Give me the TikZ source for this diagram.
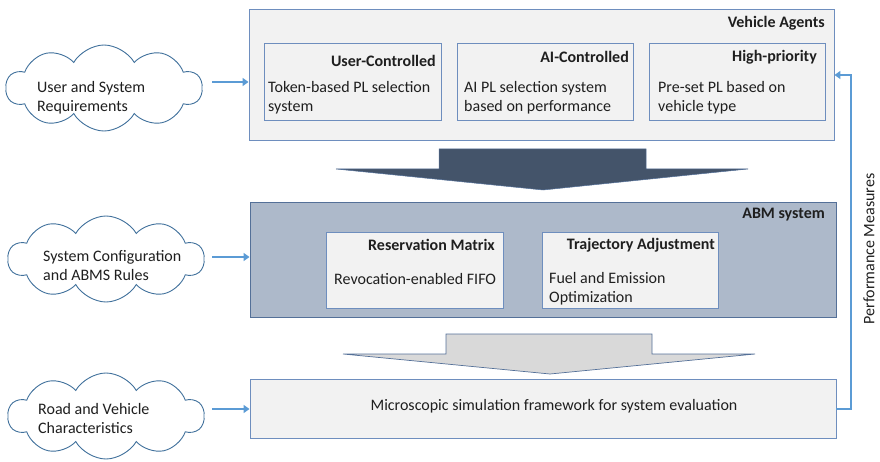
\documentclass[tikz,border=0pt]{standalone}
\usepackage{fontspec}
\setmainfont{Carlito}
\usepackage{tikz}
\usetikzlibrary{arrows.meta,positioning,shapes.symbols,calc}
\definecolor{edgeblue}{RGB}{110,142,190}
\definecolor{darkedge}{RGB}{84,112,152}
\definecolor{cloudline}{RGB}{65,113,156}
\definecolor{linkblue}{RGB}{91,155,213}
\definecolor{boxgray}{RGB}{242,242,242}
\definecolor{abmfill}{RGB}{173,185,202}
\definecolor{slate}{RGB}{68,84,106}
\definecolor{lightgray}{RGB}{217,217,217}

\begin{document}
\begin{tikzpicture}[x=1pt, y=-1pt, every node/.style={font=\fontsize{16}{19}\selectfont, text=black!88}]
\tikzset{outer/.style={draw=edgeblue, line width=0.9pt, fill=boxgray, inner sep=0pt}}
\tikzset{inner/.style={draw=edgeblue, line width=0.9pt, fill=boxgray, inner sep=0pt, minimum height=77pt}}
\tikzset{cloudy/.style={cloud, cloud puffs=10, cloud puff arc=120, cloud ignores aspect, draw=cloudline, line width=0.9pt, fill=white, minimum width=196pt, minimum height=86pt, inner sep=0pt}}
\tikzset{hd/.style={anchor=east, inner sep=0pt, font=\fontsize{16}{19}\selectfont\bfseries}}
\tikzset{body/.style={anchor=west, inner sep=0pt, align=left}}
\tikzset{link/.style={linkblue, line width=2.6pt, -{Triangle[length=6pt,width=8pt]}}}
\useasboundingbox (0,0) rectangle (880,462);

% Top: vehicle agents
\node[outer, minimum width=585pt, minimum height=131pt] (va) at (541.5,74.5) {};
\node[hd] (vat) at (825,23) {Vehicle Agents};
\node[inner, minimum width=177pt] (uc) at (352.5,81.5) {};
\node[inner, minimum width=176pt] (ai) at (545,81.5) {};
\node[inner, minimum width=176pt] (hp) at (737,81.5) {};
\node[hd] (uct) at (436,61) {User-Controlled};
\node[hd] (ait) at (629,57) {AI-Controlled};
\node[hd] (hpt) at (817,57) {High-priority};
\node[body] (ucb) at (268,97.5) {Token-based PL selection\\system};
\node[body] (aib) at (464,97.5) {AI PL selection system\\based on performance};
\node[body] (hpb) at (658,97.5) {Pre-set PL based on\\vehicle type};

% Dark block arrow
\filldraw[fill=slate, draw=darkedge, line width=0.5pt] (439,149) -- (646,149) -- (646,169) -- (748,169) -- (543,190) -- (336,169) -- (439,169) -- cycle;

% Middle: ABM system
\node[outer, fill=abmfill, draw=darkedge, minimum width=586pt, minimum height=115pt] (abm) at (543,259.5) {};
\node[hd] (abmt) at (825,215) {ABM system};
\node[inner, minimum width=177pt, minimum height=76pt] (rm) at (414.5,270) {};
\node[inner, minimum width=176pt, minimum height=76pt] (ta) at (630,270) {};
\node[hd] (rmt) at (495,245) {Reservation Matrix};
\node[hd] (tat) at (715,245) {Trajectory Adjustment};
\node[body] (rmb) at (334,279) {Revocation-enabled FIFO};
\node[body] (tab) at (549,288.5) {Fuel and Emission\\Optimization};

% Light block arrow
\filldraw[fill=lightgray, draw=darkedge, line width=0.7pt] (446,334) -- (652,334) -- (652,354) -- (755,354) -- (550,374) -- (343,354) -- (446,354) -- cycle;

% Bottom: simulation
\node[outer, minimum width=586pt, minimum height=59pt] (sim) at (543,408.5) {};
\node[inner sep=0pt] (simt) at (554,406) {Microscopic simulation framework for system evaluation};

% Clouds
\node[cloudy] (c1) at (104,88) {};
\node[body] (c1t) at (37,97.5) {User and System\\Requirements};
\node[cloudy] (c2) at (106,259) {};
\node[body] (c2t) at (43,266) {System Configuration\\and ABMS Rules};
\node[cloudy] (c3) at (106,416) {};
\node[body] (c3t) at (38,418.5) {Road and Vehicle\\Characteristics};

\coordinate (a1) at (212,82);
\coordinate (a2) at (212,257);
\coordinate (a3) at (212,409);
\draw[link] (a1) -- (a1 -| va.west);
\draw[link] (a2) -- (a2 -| abm.west);
\draw[link] (a3) -- (a3 -| sim.west);

% Feedback loop
\coordinate (fb1) at (851,409);
\coordinate (fb2) at (851,75);
\draw[link] (sim.east |- fb1) -- (fb1) -- (fb2) -- (fb2 -| va.east);
\node[rotate=90, inner sep=0pt] (pm) at (869,249) {Performance Measures};
\end{tikzpicture}
\end{document}
